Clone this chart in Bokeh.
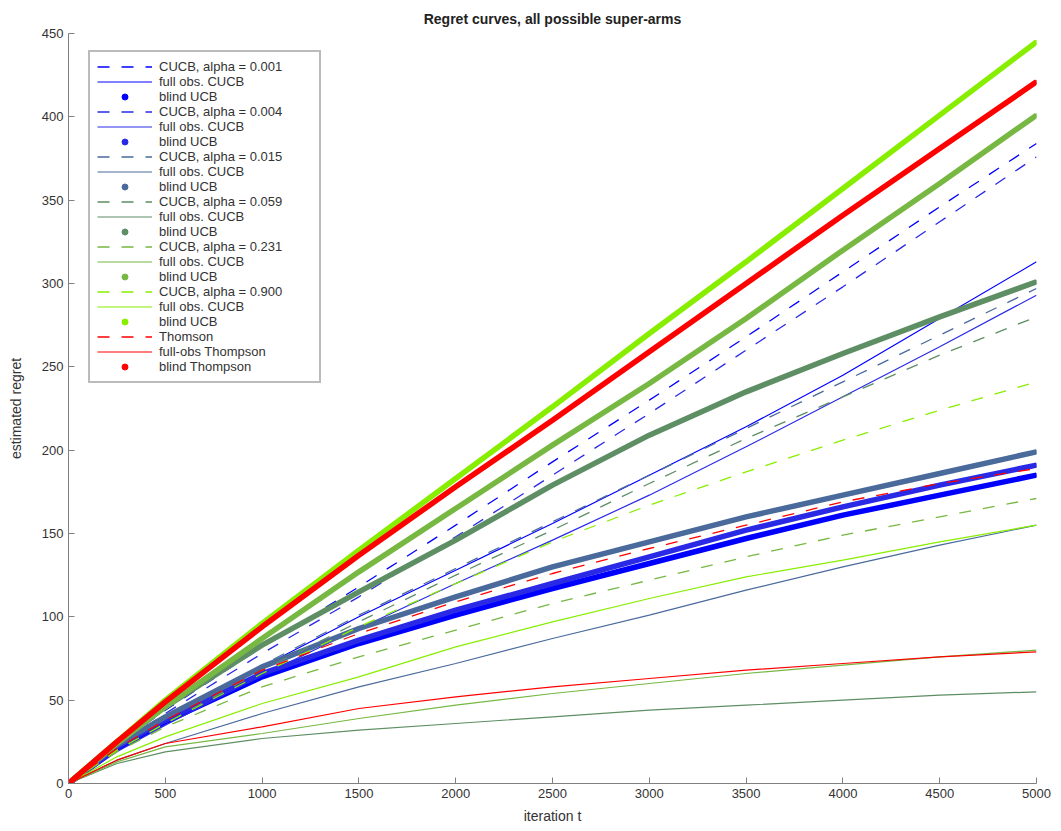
from bokeh.plotting import figure
from bokeh.models import Legend, LegendItem, SingleIntervalTicker, Range1d
from bokeh.embed import file_html
from bokeh.resources import INLINE

t = [0, 250, 500, 1000, 1500, 2000, 2500, 3000, 3500, 4000, 4500, 5000]

# blind (thick) curves
b001 = [0, 21, 37, 64, 84, 101, 117, 132, 147, 161, 173, 185]
b004 = [0, 22, 38, 66, 86, 104, 120, 136, 152, 166, 179, 191]
b015 = [0, 23, 40, 70, 93, 112, 130, 145, 160, 173, 186, 199]
b059 = [0, 25, 46, 83, 115, 146, 179, 209, 235, 258, 280, 301]
b231 = [0, 24, 46, 87, 127, 165, 203, 240, 279, 320, 360, 401]
b900 = [0, 25, 50, 96, 140, 183, 226, 270, 313, 357, 401, 445]
bthom = [0, 25, 49, 94, 137, 178, 218, 259, 300, 341, 381, 421]

# CUCB (dashed) curves
c001 = [0, 23, 44, 82, 118, 155, 193, 230, 268, 307, 346, 384]
c004 = [0, 22, 42, 78, 112, 148, 185, 222, 260, 298, 337, 376]
c015 = [0, 21, 39, 71, 101, 129, 157, 185, 213, 241, 269, 297]
c059 = [0, 20, 36, 68, 97, 125, 152, 180, 207, 232, 257, 280]
c231 = [0, 19, 34, 58, 76, 92, 108, 122, 136, 149, 160, 171]
c900 = [0, 20, 36, 66, 94, 120, 145, 167, 187, 206, 224, 241]
cthom = [0, 21, 38, 68, 90, 109, 126, 141, 155, 169, 180, 189]

# full observation (thin solid) curves
f001 = [0, 21, 38, 70, 100, 128, 156, 185, 214, 245, 279, 313]
f004 = [0, 19, 35, 65, 93, 120, 146, 173, 202, 232, 262, 293]
f015 = [0, 14, 24, 42, 58, 72, 87, 101, 116, 130, 143, 155]
f059 = [0, 12, 19, 27, 32, 36, 40, 44, 47, 50, 53, 55]
f231 = [0, 13, 22, 30, 39, 47, 54, 60, 66, 71, 76, 80]
f900 = [0, 16, 28, 48, 64, 82, 97, 111, 124, 134, 145, 155]
fthom = [0, 14, 24, 34, 45, 52, 58, 63, 68, 72, 76, 79]

dash_labels = ["CUCB, alpha = 0.001", "CUCB, alpha = 0.004", "CUCB, alpha = 0.015",
               "CUCB, alpha = 0.059", "CUCB, alpha = 0.231", "CUCB, alpha = 0.900", "Thomson"]
full_labels = ["full obs. CUCB"] * 6 + ["full-obs Thompson"]
blind_labels = ["blind UCB"] * 6 + ["blind Thompson"]
colors = ["#0000ff", "#2a2ae6", "#4a6a9c", "#5e8e64", "#77b843", "#88ee00", "#ff0000"]

dashed = [c001, c004, c015, c059, c231, c900, cthom]
full = [f001, f004, f015, f059, f231, f900, fthom]
blind = [b001, b004, b015, b059, b231, b900, bthom]

p = figure(width=1053, height=826, output_backend="svg", toolbar_location=None,
           x_range=Range1d(0, 5000), y_range=Range1d(0, 450),
           title="Regret curves, all possible super-arms",
           min_border_left=68, min_border_right=17, min_border_top=33, min_border_bottom=43)

items = []
for i in range(7):
    col = colors[i]
    r1 = p.line(t, dashed[i], line_color=col, line_width=1.3, line_dash="12 12")
    r2 = p.line(t, full[i], line_color=col, line_width=1.2)
    r3 = p.line(t, blind[i], line_color=col, line_width=5.5)
    r4 = p.scatter(t, blind[i], size=3, color=col)
    items.append(LegendItem(label=dash_labels[i], renderers=[r1]))
    items.append(LegendItem(label=full_labels[i], renderers=[r2]))
    items.append(LegendItem(label=blind_labels[i], renderers=[r4]))

p.xgrid.grid_line_color = None
p.ygrid.grid_line_color = None
p.outline_line_color = None
p.background_fill_color = "white"

p.xaxis.ticker = SingleIntervalTicker(interval=500, num_minor_ticks=0)
p.yaxis.ticker = SingleIntervalTicker(interval=50, num_minor_ticks=0)
for ax in (p.xaxis[0], p.yaxis[0]):
    ax.major_tick_in = 6
    ax.major_tick_out = 0
    ax.minor_tick_in = 0
    ax.minor_tick_out = 0
    ax.axis_line_color = "#808080"
    ax.major_tick_line_color = "#808080"
    ax.major_label_text_font = "Liberation Sans"
    ax.major_label_text_font_size = "13px"
    ax.major_label_text_color = "#333333"
    ax.axis_label_text_font = "Liberation Sans"
    ax.axis_label_text_font_size = "14px"
    ax.axis_label_text_font_style = "normal"
    ax.axis_label_text_color = "#333333"
p.xaxis.axis_label = "iteration t"
p.yaxis.axis_label = "estimated regret"
p.xaxis.axis_label_standoff = 7
p.yaxis.axis_label_standoff = 15

p.title.text_font = "Liberation Sans"
p.title.text_font_size = "14px"
p.title.text_font_style = "bold"
p.title.align = "center"
p.title.text_color = "#222222"
p.title.standoff = 14

legend = Legend(items=items, location=(20, 400))
legend.border_line_color = "#777777"
legend.border_line_width = 2
legend.background_fill_color = "white"
legend.background_fill_alpha = 1.0
legend.label_text_font = "Liberation Sans"
legend.label_text_font_size = "13px"
legend.label_text_color = "#333333"
legend.label_height = 15
legend.label_width = 153
legend.glyph_height = 15
legend.glyph_width = 55
legend.spacing = 0
legend.padding = 7
legend.margin = 0
legend.label_standoff = 7
p.add_layout(legend)

open("out.html", "w").write(file_html(p, INLINE))
